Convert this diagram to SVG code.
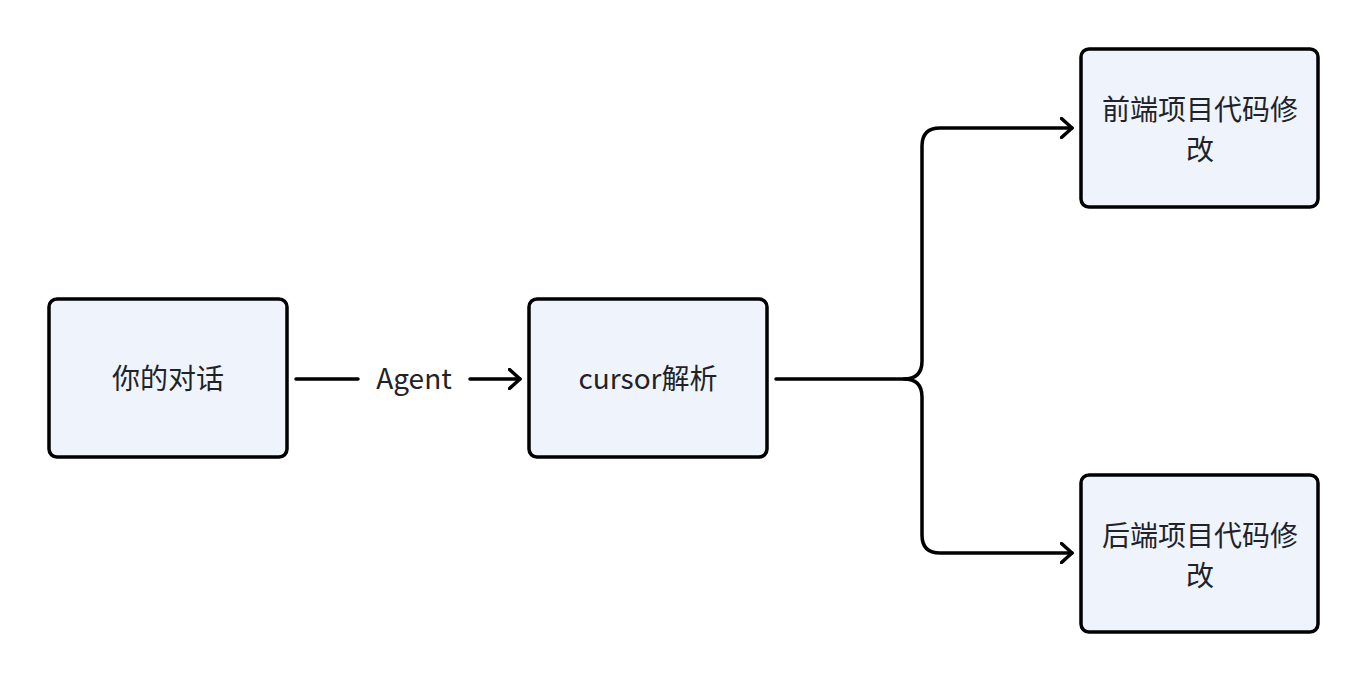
<svg xmlns="http://www.w3.org/2000/svg" width="1368" height="682" viewBox="0 0 1368 682">
<defs>
<style>
.node rect{fill:#EFF4FC;stroke:#000;stroke-width:3.5}
.node text,.lbl{font-family:"Noto Sans CJK SC","Noto Sans",sans-serif;font-size:28px;fill:#1F2329;text-anchor:middle}
.conn path{fill:none;stroke:#000;stroke-width:3.5;stroke-linecap:round;stroke-linejoin:round}
</style>
<marker id="arr" viewBox="0 0 14 22" refX="12.5" refY="11" markerWidth="14" markerHeight="22" markerUnits="userSpaceOnUse" orient="auto">
<path d="M2,1.5 L12.5,11 L2,20.5" fill="none" stroke="#000" stroke-width="3.5" stroke-linecap="round" stroke-linejoin="round"/>
</marker>
</defs>
<rect width="1368" height="682" fill="#fff"/>
<g id="connectors" class="conn">
<path d="M296,379 H358"/>
<path d="M470,379 H520" marker-end="url(#arr)"/>
<path d="M776,379 H904 Q922,379 922,361 V146 Q922,128 940,128 H1072" marker-end="url(#arr)"/>
<path d="M904,379 Q922,379 922,397 V535 Q922,553 940,553 H1072" marker-end="url(#arr)"/>
<text class="lbl" x="414" y="389">Agent</text>
</g>
<g id="node-dialog" class="node">
<rect x="49" y="299" width="238" height="158" rx="8"/>
<text x="168" y="389">你的对话</text>
</g>
<g id="node-cursor" class="node">
<rect x="529" y="299" width="238" height="158" rx="8"/>
<text x="648" y="389">cursor解析</text>
</g>
<g id="node-frontend" class="node">
<rect x="1081" y="49" width="237" height="158" rx="8"/>
<text x="1200" y="120">前端项目代码修</text>
<text x="1200" y="160">改</text>
</g>
<g id="node-backend" class="node">
<rect x="1081" y="475" width="237" height="157" rx="8"/>
<text x="1200" y="546">后端项目代码修</text>
<text x="1200" y="586">改</text>
</g>
</svg>
